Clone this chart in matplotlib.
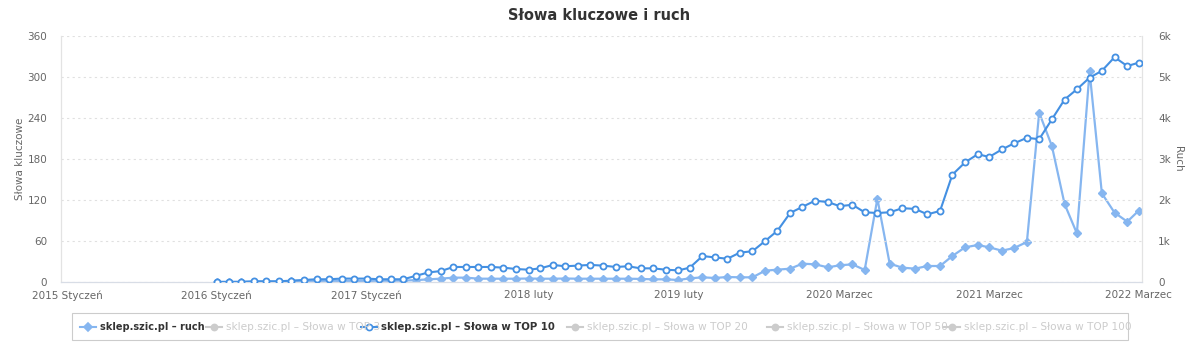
import matplotlib
matplotlib.use("Agg")
import matplotlib.pyplot as plt
from matplotlib.lines import Line2D
from matplotlib.patches import Rectangle
import pandas as pd

plt.rcParams['font.family'] = ['DejaVu Sans']

# ---------------- data ----------------
months = pd.date_range('2016-01-01', '2022-03-01', freq='MS')

top10 = [0, 0, 0, 1, 1, 1, 2, 3, 4, 4, 5, 5, 5, 4, 4, 4, 9, 14, 16, 22,
         22, 22, 22, 21, 19, 18, 20, 25, 23, 24, 25, 24, 22, 23, 20,
         20, 18, 17, 21, 38, 36, 34, 43, 45, 60, 75, 101, 110, 119, 117,
         111, 113, 102, 101, 102, 108, 107, 99, 104,
         157, 175, 187, 183, 194, 203, 211, 209, 238, 267, 282, 299, 309,
         329, 316, 321]

ruch = [5, 5, 8, 10, 10, 12, 15, 18, 20, 22, 25, 25, 25, 30, 30, 35, 45,
        65, 81, 106, 106, 81, 80, 80, 80, 85, 80, 80, 85, 80, 80, 80, 80, 80, 75,
        65, 65, 49, 89, 114, 98, 122, 114, 114, 276, 301, 325, 447, 431, 358,
        407, 431, 293, 2033, 447, 350, 325, 390, 390, 634, 846, 902, 846, 764,
        829, 976, 4130, 3317, 1902, 1187, 5138, 2163, 1691, 1472, 1740]

tick_dates = ['2015-01-01', '2016-01-01', '2017-01-01', '2018-02-01',
              '2019-02-01', '2020-03-01', '2021-03-01', '2022-03-01']
tick_labels = ['2015 Styczeń', '2016 Styczeń', '2017 Styczeń', '2018 luty',
               '2019 luty', '2020 Marzec', '2021 Marzec', '2022 Marzec']

left_ticks = [0, 60, 120, 180, 240, 300, 360]
right_ticks = [0, 1000, 2000, 3000, 4000, 5000, 6000]
right_labels = ['0', '1k', '2k', '3k', '4k', '5k', '6k']

legend_items = ['sklep.szic.pl – ruch', 'sklep.szic.pl – Słowa w TOP 3',
                'sklep.szic.pl – Słowa w TOP 10', 'sklep.szic.pl – Słowa w TOP 20',
                'sklep.szic.pl – Słowa w TOP 50', 'sklep.szic.pl – Słowa w TOP 100']

# ---------------- style ----------------
W, H = 1200, 352
C_TOP10 = '#4490e2'
C_RUCH = '#86b6f0'
GRID = '#e0e0e0'
TXT = '#666666'

fig = plt.figure(figsize=(W / 100, H / 100), dpi=100)
fig.patch.set_facecolor('white')

def fx(x):
    return x / W

def fy(y):
    return 1 - y / H

ax = fig.add_axes([fx(61), fy(282), fx(1142) - fx(61), fy(36) - fy(282)])
ax2 = ax.twinx()

ax.set_zorder(2)
ax.patch.set_visible(False)

ax2.plot(months, ruch, color=C_RUCH, lw=1.6, marker='D', ms=4.2,
         mfc=C_RUCH, mec=C_RUCH, zorder=3)
ax.plot(months, top10, color=C_TOP10, lw=1.5, marker='o', ms=4.4,
        mfc='white', mec=C_TOP10, mew=1.3, zorder=4)

ax.set_xlim(pd.Timestamp('2014-12-17'), pd.Timestamp('2022-03-09'))
ax.set_ylim(0, 360)
ax2.set_ylim(0, 6000)

ax.set_xticks([pd.Timestamp(d) for d in tick_dates])
ax.set_xticklabels(tick_labels)
ax.set_yticks(left_ticks)
ax.set_yticklabels([str(v) for v in left_ticks])
ax2.set_yticks(right_ticks)
ax2.set_yticklabels(right_labels)

for a in (ax, ax2):
    a.tick_params(axis='both', length=0, labelsize=7.5, labelcolor=TXT)
    for s in a.spines.values():
        s.set_visible(False)
ax.tick_params(axis='x', pad=6)
ax.tick_params(axis='y', pad=10)
ax2.tick_params(axis='y', pad=11.5)

ax.grid(axis='y', color=GRID, lw=0.8, linestyle=(0, (2, 3)))
ax.set_axisbelow(True)

# plot border
for s in ('left', 'right', 'bottom'):
    ax.spines[s].set_visible(True)
    ax.spines[s].set_color('#e3e3e3')
    ax.spines[s].set_linewidth(0.9)
ax.spines['bottom'].set_color('#d8dde6')

ax.set_ylabel('Słowa kluczowe', fontsize=7.5, color=TXT, labelpad=2)
ax2.set_ylabel('Ruch', fontsize=7.5, color=TXT, rotation=270, labelpad=9)

fig.text(fx(599), fy(16), 'Słowa kluczowe i ruch', ha='center', va='center',
         fontsize=10.5, fontweight='bold', color='#333333')

# ---------------- legend ----------------
fig.add_artist(Rectangle((fx(72), fy(340)), fx(1128) - fx(72), fy(313) - fy(340),
                         transform=fig.transFigure, fill=False,
                         edgecolor='#cccccc', lw=0.8))
sym_x = [80, 206, 361, 567, 767, 944]
ly = fy(326.5)
for i, (label, sx) in enumerate(zip(legend_items, sym_x)):
    if i == 0:
        col, mk, mfc, tcol, fw, fs = C_RUCH, 'D', C_RUCH, '#333333', 'bold', 7
    elif i == 2:
        col, mk, mfc, tcol, fw, fs = C_TOP10, 'o', 'white', '#333333', 'bold', 7.3
    else:
        col, mk, mfc, tcol, fw, fs = '#cccccc', 'o', '#cccccc', '#cccccc', 'normal', 7.6
    fig.add_artist(Line2D([fx(sx), fx(sx + 16)], [ly, ly], transform=fig.transFigure,
                          color=col, lw=1.5))
    fig.add_artist(Line2D([fx(sx + 8)], [ly], transform=fig.transFigure,
                          color=col, marker=mk, ms=4.2 if mk == 'D' else 4.4,
                          mfc=mfc, mec=col, mew=1.2, lw=0))
    fig.text(fx(sx + 20), ly, label, ha='left', va='center', fontsize=fs,
             fontweight=fw, color=tcol)

fig.savefig('out.png', dpi=100, facecolor='white')
